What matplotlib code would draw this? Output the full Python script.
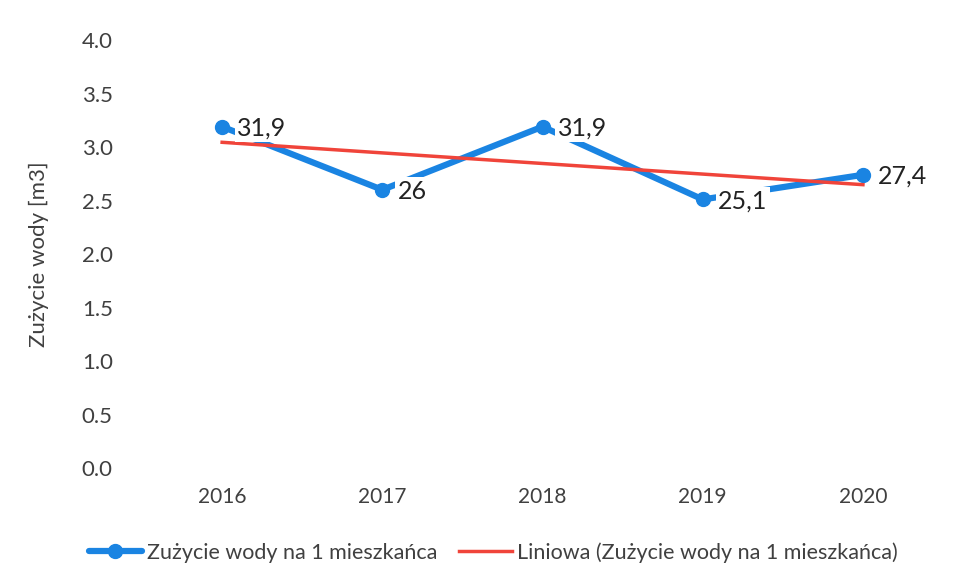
import numpy as np
import matplotlib.pyplot as plt

years = ['2016', '2017', '2018', '2019', '2020']
zuzycie = [3.19, 2.60, 3.19, 2.51, 2.74]
etykiety = ['31,9', '26', '31,9', '25,1', '27,4']
yticks = [0.0, 0.5, 1.0, 1.5, 2.0, 2.5, 3.0, 3.5, 4.0]

plt.rcParams['font.family'] = ['Lato', 'DejaVu Sans']
txt = '#404040'

fig = plt.figure(figsize=(9.61, 5.84), dpi=100)
ax = fig.add_axes([0.1478, 0.1986, 0.8335, 0.7329])

x = np.arange(len(years))
ax.plot(x, zuzycie, color='#1a84e2', lw=4.5, marker='o', ms=10,
        label='Zużycie wody na 1 mieszkańca', zorder=2, solid_capstyle='round')

# linia trendu (regresja liniowa)
a, b = np.polyfit(x, zuzycie, 1)
ax.plot(x, a * x + b, color='#f0443a', lw=2.5,
        label='Liniowa (Zużycie wody na 1 mieszkańca)', zorder=3)

for xi, yi, t in zip(x, zuzycie, etykiety):
    ax.annotate(t, (xi, yi), xytext=(11, -1), textcoords='offset points',
                ha='left', va='center', fontsize=18, color='#222222', zorder=4,
                bbox=dict(boxstyle='square,pad=0.1', fc='white', ec='none'))

ax.set_xlim(-0.5, 4.5)
ax.set_ylim(0, 4.0)
ax.set_xticks(x)
ax.set_xticklabels(years)
ax.set_yticks(yticks)
ax.set_yticklabels(['%.1f' % v for v in yticks])
ax.tick_params(length=0, colors=txt)
ax.tick_params(axis='x', labelsize=15, pad=14)
ax.tick_params(axis='y', labelsize=16, pad=21)
for s in ax.spines.values():
    s.set_visible(False)
ax.set_ylabel('Zużycie wody [m3]', fontsize=16, color=txt, labelpad=24)

fig.legend(loc='center', bbox_to_anchor=(0.513, 0.054), ncol=2, frameon=False,
           fontsize=15.5, labelcolor=txt, handlelength=2.5, handletextpad=0.2,
           columnspacing=1.0)

fig.savefig('out.png', dpi=100)
